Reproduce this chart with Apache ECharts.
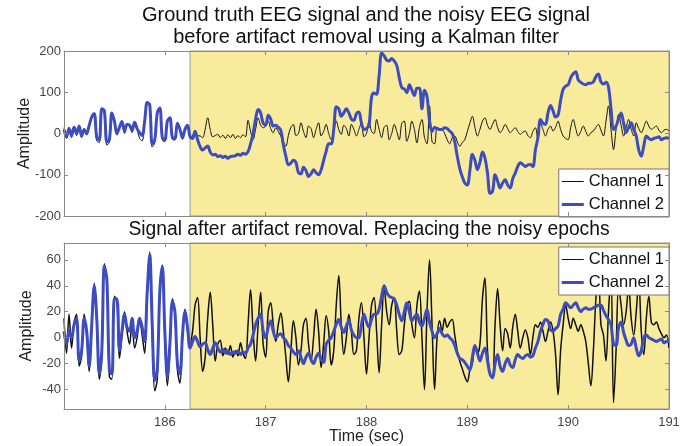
<!DOCTYPE html>
<html>
<head>
<meta charset="utf-8">
<script src="https://cdn.jsdelivr.net/npm/echarts@6/dist/echarts.min.js"></script>
<style>
  html, body { margin: 0; padding: 0; background: #fff; }
  #chart { width: 692px; height: 446px; }
</style>
</head>
<body>
<div id="chart"></div>
<script>
// sampling grid (seconds)
const t0 = 185
const dt = 0.025
const yellowStart = 186.25
const xTicks = [186, 187, 188, 189, 190, 191]
const bottomYTicks = [-40, -20, 0, 20, 40, 60]

// top panel: ground truth (Channel 1) and noisy signal (Channel 2)
const ch1Top = [
  14, -12, 15, -10, 18, -5, 20, -10, 12, -4,
  22, 42, 50, -18, -22, 62, 56, -28, -22, 52,
  30, -4, 18, 30, 0, 24, 18, 2, 28, 10,
  -12, -18, 28, 78, 70, -33, -22, 52, 62, -16,
  -20, 30, 38, -14, -16, 25, 8, -14, 10, 20,
  -8, -5, 8, -5, -6, -10, 10, 38, 10, -8,
  -5, -2, -10, -4, -12, -3, -10, -2, -12, -5,
  -10, -3, -8, 32, 5, -15, 10, 38, 20, 14,
  18, 30, 12, 2, 14, 5, -6, -20, -31, -5,
  15, 22, -5, 0, 26, 5, -10, 18, 12, -10,
  10, 26, -6, 5, 22, 0, -15, 5, 30, 10,
  -2, 20, 12, -6, 22, 10, -6, 10, 26, -8,
  0, 30, 5, 0, 34, 10, -10, 15, 20, -15,
  0, 22, 5, -15, 25, 30, -19, 0, 30, 10,
  -23, 15, 34, -10, -25, 67, -20, -25, 14, 12,
  10, 0, -15, -25, -10, -6, -20, -31, -22, -15,
  5, 25, 42, 15, -6, 10, 30, 38, 20, 10,
  22, 34, 15, 2, 10, 22, 12, 2, 8, 14,
  5, -2, 3, 6, -5, -10, 5, 14, -15, 26,
  10, -6, 10, 18, 6, 15, 30, 10, -6, -12,
  -15, 15, 34, 12, -6, 5, 18, 5, -6, 2,
  6, 15, 22, 8, -6, 30, 67, 10, -39, 10,
  46, 20, -6, 15, 34, 10, -6, 26, 12, 2,
  15, 30, 18, 10, 14, 18, 8, 2, 8, 10, 6
]
const ch2Top = [
  10, -8, 12, -5, 15, 0, 18, -6, 10, 0,
  20, 40, 48, -10, -15, 60, 55, -20, -15, 50,
  30, 0, 15, 29, 5, 22, 20, 8, 27, 12,
  2, -5, 30, 75, 70, -25, -15, 50, 62, -10,
  -15, 30, 38, -10, -12, 25, 10, -10, 10, 20,
  -8, -12, 5, -15, -32, -40, -35, -30, -45, -52,
  -50, -56, -54, -58, -55, -60, -56, -55, -54, -50,
  -53, -48, -50, -44, -25, 0, 35, 58, 50, 25,
  20, 44, 35, 18, 20, 15, 8, -27, -55, -76,
  -72, -65, -70, -95, -98, -82, -90, -104, -98, -88,
  -95, -100, -88, -65, -43, -25, -25, 10, 65, 60,
  42, 50, 60, 50, 35, 32, 48, 52, 25, 10,
  12, 20, 88, 98, 95, 140, 195, 188, 178, 176,
  182, 176, 165, 135, 111, 108, 99, 118, 105, 92,
  110, 110, 60, 105, 90, 30, 5, 15, 12, 10,
  10, 14, 12, 6, 0, -20, -55, -85, -105, -120,
  -125, -90, -50, -65, -88, -70, -45, -60, -96, -145,
  -140, -100, -115, -132, -120, -112, -125, -132, -110, -96,
  -80, -71, -75, -80, -76, -75, -80, -40, -10, 34,
  25, 22, 50, 68, 55, 40, 45, 80, 107, 115,
  118, 135, 145, 150, 130, 124, 120, 118, 122, 122,
  125, 138, 144, 125, 120, 124, 112, 60, 10, 18,
  35, 50, 25, 2, 15, 26, 10, -6, -40, -55,
  -30, -6, -12, -15, -12, -10, -8, -15, -12, -10, -12
]

// bottom panel: after artifact removal
const ch1Bot = [
  15, -12, 18, -8, 12, 18, -22, -14, 18, 2,
  -26, 8, 42, 12, -32, -14, 57, 42, -30, -32,
  32, 28, -16, 2, 20, 5, -5, 12, -8, 0,
  14, 2, -12, 32, 66, 5, -41, -32, 36, 56,
  0, -37, -10, 30, 18, -25, -35, 0, 22, 5,
  -5, 5, 25, 31, 0, -26, -15, 15, 35, 10,
  -18, -5, -2, -14, -8, -13, -6, -15, -10, -14,
  -4, -12, -16, 10, 37, 5, -18, 10, 35, -5,
  -15, 20, 27, 10, -3, 10, 19, 5, -15, -34,
  -10, 13, 0, -21, -10, 10, 15, -5, -18, 0,
  22, 5, -23, -5, 17, 5, -21, -10, 25, 48,
  10, -13, 0, 18, 5, -13, -10, 15, 27, 0,
  -28, 0, 25, 31, 5, -27, 10, 39, 20, 10,
  25, 31, 5, -13, -10, 10, 25, 28, 10, 0,
  25, 36, 0, -40, 20, 60, 10, -40, 0, 13,
  5, 15, 8, 12, 14, 2, -10, -18, -24, -30,
  -34, -25, -20, -8, -12, -5, 30, 46, -10, -28,
  -31, 10, 38, 10, -10, 7, 3, -8, 8, 18,
  5, -8, 0, 6, 0, -13, 0, 10, 8, 12,
  5, -3, 5, 12, 5, -13, -44, -10, 10, 25,
  15, 7, 15, 10, 5, 10, 5, -3, -20, -37,
  -10, 30, 50, 10, 2, -18, 20, 50, -50, -10,
  40, 25, 10, 20, 40, 15, 2, 20, 45, 5,
  -13, 15, 32, 12, 10, 12, 7, 3, 0, 2, -8
]
const ch2Bot = [
  5, -5, 5, 0, 10, 15, -18, -10, 15, 5,
  -22, 10, 40, 15, -28, -10, 55, 45, -25, -28,
  30, 30, -10, 5, 18, 8, 5, 15, 0, 5,
  15, 8, -3, 35, 64, 10, -33, -25, 35, 55,
  5, -30, -5, 28, 20, -20, -28, 2, 20, 8,
  -8, -3, 1, -3, -7, -5, -4, -9, -13, -8,
  -4, -8, -11, -9, -12, -10, -13, -11, -12, -10,
  -13, -11, -12, -8, -5, 2, 10, 15, 18, 5,
  0, 8, 13, 5, 0, 2, 3, 0, -2, -6,
  -8, -11, -13, -10, -15, -20, -15, -12, -17, -20,
  -15, -12, -17, -19, -5, -2, 0, 5, 10, 14,
  8, 4, 9, 13, 6, 2, 0, 0, 10, 18,
  12, 8, 14, 18, 18, 22, 32, 40, 35, 32,
  31, 30, 25, 18, 13, 20, 27, 20, 13, 16,
  18, 12, 9, 15, 22, 12, 5, 0, 3, 7,
  3, 1, 2, 0, -2, -6, -12, -16, -17, -19,
  -22, -25, -15, -6, -12, -18, -12, -8, -18, -28,
  -31, -20, -13, -22, -26, -20, -16, -21, -23, -17,
  -13, -15, -16, -14, -13, -15, -14, -8, -3, 5,
  10, 14, 13, 6, 5, 7, 9, 18, 22, 27,
  25, 23, 25, 27, 23, 20, 22, 23, 22, 22,
  23, 24, 25, 25, 21, 17, 14, 10, -5, -6,
  8, 12, 4, -2, -6, -5, 0, -8, -14, -10,
  0, 2, 0, -1, -2, -3, -2, -1, -4, -3, -3
]

const font = 'Liberation Sans, Arial, sans-serif'
const boxColor = '#8a8a8a'
const labelColor = '#444'
const yellow = '#f8ec9c'
const black = '#111'
const blue = '#3d4cc0'

const pairs = (vals) => vals.map((v, i) => [+(t0 + i * dt).toFixed(3), v])

const xAxisFor = (gridIndex, position, showLabel, extra) => Object.assign({
  type: 'value',
  gridIndex: gridIndex,
  position: position,
  min: 185,
  max: 191,
  interval: 1,
  z: 5,
  axisLine: { show: true, onZero: false, lineStyle: { color: boxColor, width: 1 } },
  axisTick: { show: true, inside: true, length: 4, lineStyle: { color: boxColor } },
  axisLabel: {
    show: showLabel,
    color: labelColor,
    fontSize: 13,
    fontFamily: font,
    margin: 7,
    formatter: (v) => (xTicks.indexOf(v) >= 0 ? String(v) : '')
  },
  splitLine: { show: false }
}, extra || {})

const yAxisFor = (gridIndex, position, range, extra) => Object.assign({
  type: 'value',
  gridIndex: gridIndex,
  position: position,
  min: range[0],
  max: range[1],
  z: 5,
  axisLine: { show: true, onZero: false, lineStyle: { color: boxColor } },
  axisTick: { show: true, inside: true, length: 4, lineStyle: { color: boxColor } },
  axisLabel: { show: false },
  splitLine: { show: false }
}, extra || {})

// legend icons: thin bar for Channel 1, thick bar for Channel 2
const legendFor = (top) => ({
  orient: 'vertical',
  right: 23,
  top: top,
  data: [
    { name: 'Channel 1', icon: 'path://M0,0H22V1H0Z' },
    { name: 'Channel 2', icon: 'path://M0,0H22V3H0Z' }
  ],
  backgroundColor: '#fff',
  borderColor: '#777',
  borderWidth: 1,
  borderRadius: 0,
  padding: [4, 5, 4, 3],
  itemWidth: 22,
  itemHeight: 14,
  itemGap: 6,
  symbolKeepAspect: true,
  selectedMode: false,
  textStyle: { fontSize: 16.5, fontFamily: font, color: '#111' }
})

const nameStyle = { fontSize: 16, fontFamily: font, color: '#222' }

const option = {
  animation: false,
  backgroundColor: '#fff',
  title: [
    {
      text: 'Ground truth EEG signal and the noisy EEG signal\nbefore artifact removal using a Kalman filter',
      left: 366, top: 4, padding: 0, textAlign: 'center',
      textStyle: { fontSize: 20, fontWeight: 'normal', fontFamily: font, color: '#111', lineHeight: 22 }
    },
    {
      text: 'Signal after artifact removal. Replacing the noisy epochs',
      left: 369, top: 219, padding: 0, textAlign: 'center',
      textStyle: { fontSize: 19.3, fontWeight: 'normal', fontFamily: font, color: '#111', lineHeight: 22 }
    }
  ],
  legend: [legendFor(169), legendFor(247)],
  grid: [
    { left: 64, top: 51, width: 605, height: 165 },
    { left: 64, top: 243, width: 605, height: 166 }
  ],
  xAxis: [
    xAxisFor(0, 'bottom', false),
    xAxisFor(0, 'top', false),
    xAxisFor(1, 'bottom', true, {
      name: 'Time (sec)', nameLocation: 'middle', nameGap: 20, nameMoveOverlap: false,
      nameTextStyle: nameStyle
    }),
    xAxisFor(1, 'top', false)
  ],
  yAxis: [
    yAxisFor(0, 'left', [-200, 200], {
      interval: 100,
      name: 'Amplitude', nameLocation: 'middle', nameGap: 31, nameMoveOverlap: false,
      nameTextStyle: nameStyle,
      axisLabel: { color: labelColor, fontSize: 13, fontFamily: font, margin: 3 }
    }),
    yAxisFor(0, 'right', [-200, 200], { interval: 100 }),
    yAxisFor(1, 'left', [-55, 73], {
      name: 'Amplitude', nameLocation: 'middle', nameGap: 29, nameMoveOverlap: false,
      nameTextStyle: nameStyle,
      axisTick: { show: true, inside: true, length: 4, customValues: bottomYTicks, lineStyle: { color: boxColor } },
      axisLabel: { color: labelColor, fontSize: 13, fontFamily: font, margin: 3, customValues: bottomYTicks }
    }),
    yAxisFor(1, 'right', [-55, 73], {
      axisTick: { show: true, inside: true, length: 4, customValues: bottomYTicks, lineStyle: { color: boxColor } },
      axisLabel: { show: false, customValues: bottomYTicks }
    })
  ],
  series: [
    {
      name: 'Channel 1', type: 'line', xAxisIndex: 0, yAxisIndex: 0,
      data: pairs(ch1Top), showSymbol: false, symbol: 'none', smooth: 0.35,
      lineStyle: { color: black, width: 1 }, itemStyle: { color: black },
      markArea: {
        silent: true,
        itemStyle: { color: yellow, borderColor: '#999', borderWidth: 1 },
        data: [[{ xAxis: yellowStart }, { xAxis: 191 }]]
      }
    },
    {
      name: 'Channel 2', type: 'line', xAxisIndex: 0, yAxisIndex: 0,
      data: pairs(ch2Top), showSymbol: false, symbol: 'none', smooth: 0.35,
      lineStyle: { color: blue, width: 3 }, itemStyle: { color: blue }
    },
    {
      name: 'Channel 1', type: 'line', xAxisIndex: 2, yAxisIndex: 2,
      data: pairs(ch1Bot), showSymbol: false, symbol: 'none', smooth: 0.35,
      lineStyle: { color: black, width: 1.5 }, itemStyle: { color: black },
      markArea: {
        silent: true,
        itemStyle: { color: yellow, borderColor: '#999', borderWidth: 1 },
        data: [[{ xAxis: yellowStart }, { xAxis: 191 }]]
      }
    },
    {
      name: 'Channel 2', type: 'line', xAxisIndex: 2, yAxisIndex: 2,
      data: pairs(ch2Bot), showSymbol: false, symbol: 'none', smooth: 0.35,
      lineStyle: { color: blue, width: 3 }, itemStyle: { color: blue }
    }
  ]
}

echarts.init(document.getElementById('chart'), null, { renderer: 'canvas' }).setOption(option)
</script>
</body>
</html>
